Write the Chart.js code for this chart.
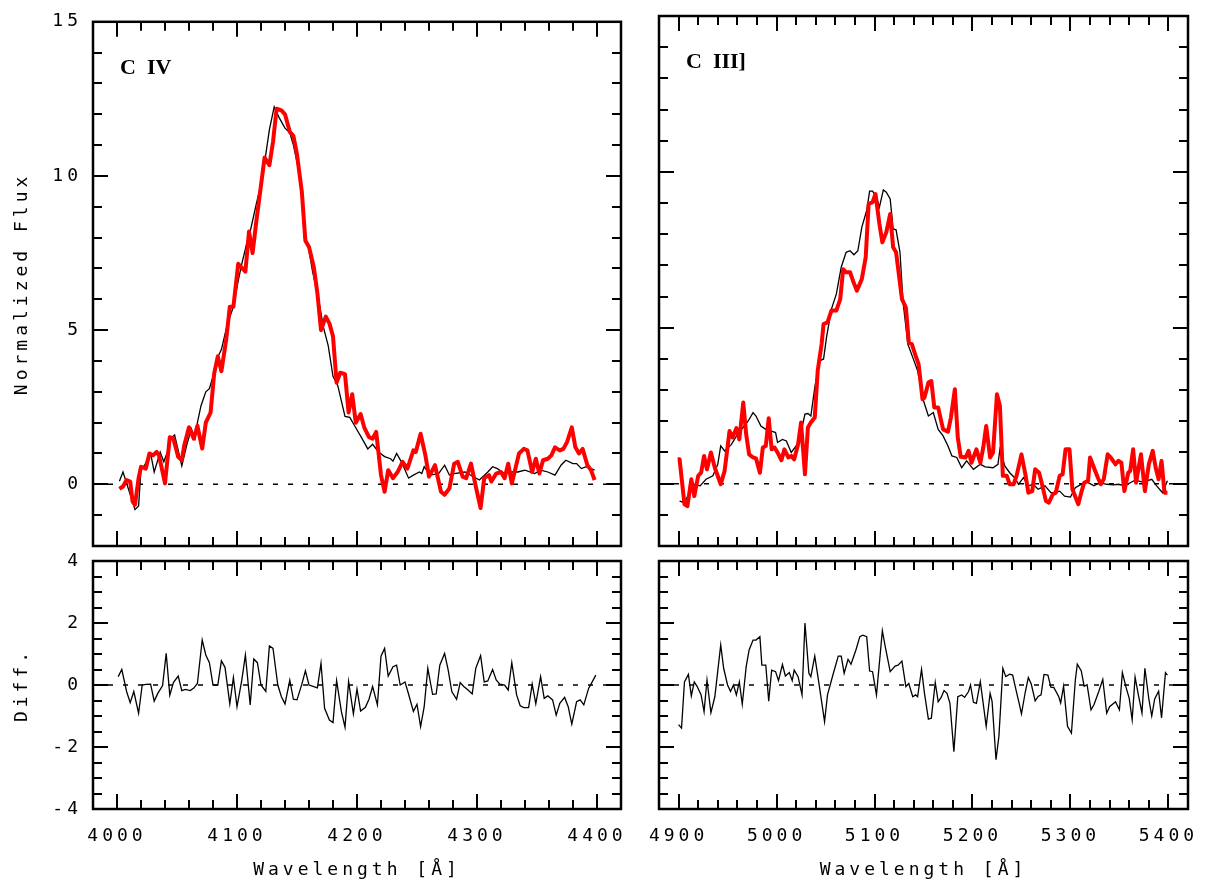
<!DOCTYPE html>
<html>
<head>
<meta charset="utf-8">
<script src="https://cdn.jsdelivr.net/npm/chart.js@4.4.1/dist/chart.umd.min.js"></script>
<style>
html, body { margin: 0; padding: 0; background: #fff; }
#wrap { position: relative; width: 1211px; height: 884px; }
#wrap canvas { position: absolute; left: 0; top: 0; }
</style>
</head>
<body>
<div id="wrap">
<canvas id="civTop" width="1211" height="884"></canvas>
<canvas id="ciiiTop" width="1211" height="884"></canvas>
<canvas id="civDiff" width="1211" height="884"></canvas>
<canvas id="ciiiDiff" width="1211" height="884"></canvas>
</div>
<script>
// ---- tick labels ----
const civTicks = [4000, 4100, 4200, 4300, 4400];
const ciiiTicks = [4900, 5000, 5100, 5200, 5300, 5400];
const fluxTicks = [0, 5, 10, 15];
const diffTicks = [-4, -2, 0, 2, 4];

// ---- C IV : thin black spectrum ----
const civBlackWave = [4002,4005,4015,4018,4020,4023,4028,4031,4036,4039,4042,4045,4048,4052,4054,4058,4062,4065,4067,4070,
  4074,4077,4080,4083,4087,4092,4097,4101,4104,4108,4111,4116,4121,4124,4127,4131,4135,4140,4144,4147,
  4151,4154,4156,4159,4163,4168,4172,4176,4180,4184,4190,4194,4198,4204,4209,4213,4218,4223,4228,4230,
  4233,4237,4243,4247,4252,4254,4256,4261,4268,4273,4277,4281,4290,4302,4309,4313,4317,4323,4327,4328,
  4334,4340,4348,4353,4359,4365,4370,4374,4380,4383,4387,4391,4395,4398];
const civBlackFlux = [0.1,0.4,-0.82,-0.7,0.5,0.62,1.0,0.4,1.05,0.73,1.05,1.5,1.6,0.94,0.6,1.26,1.8,1.48,2.0,2.55,
  3.0,3.1,3.5,4.05,4.37,5.2,5.76,6.6,7.15,7.8,8.2,9.08,9.9,10.7,11.5,12.24,11.9,11.55,11.4,11.0,
  10.26,9.4,8.0,7.8,6.9,6.0,5.1,4.5,3.5,3.2,2.2,2.17,1.9,1.5,1.15,1.3,1.05,0.9,0.83,0.75,
  1.0,0.73,0.2,0.3,0.4,0.35,0.57,0.3,0.35,0.62,0.3,0.35,0.4,0.14,0.4,0.57,0.51,0.35,0.57,0.4,
  0.4,0.46,0.35,0.46,0.4,0.3,0.62,0.78,0.67,0.67,0.51,0.57,0.51,0.46];

// ---- C IV : thick red spectrum ----
const civRedWave = [4002,4005,4008,4011,4013,4015,4018,4020,4024,4027,4030,4033,4035,4040,4044,4047,4051,4054,4056,4060,
  4064,4067,4071,4074,4078,4081,4084,4087,4091,4094,4097,4101,4107,4110,4113,4116,4120,4123,4127,4130,
  4133,4137,4140,4144,4147,4150,4154,4157,4160,4164,4167,4170,4174,4177,4180,4183,4186,4190,4193,4196,
  4199,4203,4206,4210,4213,4216,4220,4223,4226,4230,4234,4238,4242,4247,4249,4253,4257,4260,4265,4270,
  4273,4277,4281,4284,4288,4291,4295,4299,4303,4306,4310,4312,4316,4320,4323,4326,4329,4332,4335,4339,
  4342,4346,4349,4352,4355,4359,4362,4365,4369,4372,4375,4379,4382,4385,4388,4392,4395,4398];
const civRedFlux = [-0.15,-0.07,0.14,0.09,-0.56,-0.66,0.2,0.57,0.51,1.0,0.94,1.05,0.94,0.03,1.53,1.48,0.89,0.78,1.26,1.85,
  1.48,1.9,1.16,2.0,2.33,3.6,4.15,3.67,4.69,5.76,5.76,7.15,6.9,8.2,7.5,8.5,9.7,10.6,10.35,11.1,
  12.18,12.13,12.0,11.43,11.3,10.7,9.5,7.9,7.7,7.05,6.2,5.0,5.44,5.22,4.8,3.3,3.62,3.57,2.33,2.92,
  2.0,2.28,1.85,1.53,1.48,1.7,0.3,-0.24,0.46,0.2,0.41,0.73,0.51,1.1,1.05,1.64,0.94,0.25,0.62,-0.24,
  -0.34,-0.13,0.67,0.73,0.25,0.2,0.67,-0.07,-0.77,0.2,0.3,0.09,0.35,0.4,0.2,0.67,0.03,0.51,1.0,1.15,
  1.1,0.4,0.83,0.35,0.78,0.83,0.94,1.2,1.1,1.15,1.37,1.85,1.2,1.0,1.15,0.62,0.46,0.14];

// ---- C IV : difference ----
const civDiffWave = [4001,4004,4008,4011,4014,4018,4021,4024,4028,4031,4034,4038,4041,4044,4047,4051,4054,4057,4061,4064,
  4067,4071,4074,4077,4080,4084,4087,4090,4094,4097,4100,4104,4107,4111,4114,4117,4120,4124,4127,4130,
  4134,4137,4140,4144,4147,4150,4154,4157,4160,4164,4167,4170,4173,4177,4180,4183,4187,4190,4193,4197,
  4200,4203,4207,4210,4213,4217,4220,4223,4226,4230,4233,4236,4240,4243,4247,4250,4253,4256,4259,4263,
  4266,4269,4273,4276,4279,4283,4286,4289,4293,4296,4299,4303,4306,4309,4313,4316,4319,4323,4326,4329,
  4333,4336,4339,4343,4346,4349,4353,4356,4359,4363,4366,4369,4373,4376,4379,4383,4386,4389,4393,4395,4399];
const civDiff = [0.27,0.5,-0.21,-0.57,-0.21,-0.91,0,0.02,0.03,-0.52,-0.27,-0.02,1.02,-0.33,0.08,0.29,-0.18,-0.14,-0.18,-0.1,
  0.05,1.45,0.97,0.72,0,0,0.78,0.57,-0.61,0.24,-0.7,0.16,0.97,-0.64,0.84,0.72,0,-0.21,1.26,1.18,
  0,-0.38,-0.61,0.16,-0.46,-0.48,0.02,0.46,0,-0.05,-0.09,0.7,-0.75,-1.13,-1.21,0.14,-0.86,-1.36,0.11,-0.93,
  -0.13,-0.84,-0.72,-0.46,-0.05,-0.64,0.93,1.18,0.29,0.59,0.64,0,0.1,-0.3,-0.85,-0.62,-1.34,-0.7,0.54,-0.3,
  -0.29,0.64,1.02,0.48,-0.21,-0.46,0.08,-0.05,-0.18,-0.29,0.54,0.95,0.1,0.13,0.5,0.16,0.03,0,-0.16,0.72,
  -0.32,-0.67,-0.73,-0.73,0.03,-0.61,0.27,-0.43,-0.35,-0.48,-0.97,-0.59,-0.4,-0.7,-1.26,-0.54,-0.48,-0.64,-0.11,0.03,0.32];

// ---- C III] : thin black spectrum ----
const ciiiBlackWave = [4901,4906,4911,4916,4922,4928,4935,4940,4943,4947,4954,4960,4967,4971,4976,4979,4984,4989,4994,4999,
  5001,5006,5010,5015,5020,5023,5029,5032,5035,5039,5044,5048,5051,5056,5061,5066,5071,5075,5079,5083,
  5087,5092,5095,5098,5102,5105,5109,5112,5116,5119,5122,5126,5129,5134,5139,5144,5150,5155,5160,5165,
  5170,5175,5179,5184,5189,5194,5201,5208,5213,5221,5226,5228,5233,5238,5243,5247,5252,5257,5262,5267,
  5274,5280,5284,5289,5294,5300,5305,5310,5316,5320,5324,5330,5337,5344,5349,5356,5361,5366,5373,5378,
  5383,5388,5394,5399];
const ciiiBlackFlux = [-0.56,-0.61,-0.29,-0.02,-0.07,0.14,0.25,0.62,1.21,1.05,1.26,1.58,1.85,2.01,2.28,2.17,1.85,1.74,1.69,1.64,
  1.32,1.42,1.37,1.0,1.21,1.37,2.23,2.25,2.17,3.08,3.94,4.0,4.69,5.6,6.08,6.94,7.42,7.47,7.34,7.47,
  8.22,8.76,9.38,9.38,9.19,8.87,9.42,9.35,9.13,8.17,8.14,7.42,5.87,4.48,4.05,3.62,2.66,2.17,2.28,1.74,
  1.53,1.21,0.89,0.84,0.51,0.73,0.46,0.62,0.54,0.51,0.62,1.1,0.57,0.35,0.19,-0.02,0.19,-0.07,-0.02,-0.18,
  -0.07,-0.29,-0.29,-0.24,-0.4,-0.43,-0.13,-0.04,0.06,0.0,-0.07,0.03,-0.02,-0.04,-0.02,-0.07,0.03,0.11,0.06,0.09,
  0.14,-0.07,-0.29,0.09];

// ---- C III] : thick red spectrum ----
const ciiiRedWave = [4899,4901,4906,4909,4913,4916,4920,4923,4926,4929,4933,4937,4943,4947,4952,4955,4959,4962,4966,4969,
  4972,4976,4979,4983,4986,4989,4992,4995,4998,5001,5005,5008,5012,5015,5018,5022,5025,5029,5032,5035,
  5039,5042,5046,5048,5052,5056,5061,5065,5068,5071,5075,5078,5082,5087,5091,5094,5098,5101,5105,5108,
  5112,5116,5119,5122,5128,5132,5135,5138,5142,5145,5149,5151,5155,5158,5161,5165,5170,5175,5178,5182,
  5185,5188,5193,5196,5199,5204,5208,5211,5214,5218,5221,5225,5228,5231,5235,5238,5242,5245,5250,5254,
  5257,5261,5264,5268,5271,5275,5278,5282,5285,5289,5292,5295,5299,5302,5308,5311,5314,5318,5320,5324,
  5328,5331,5334,5338,5341,5346,5349,5352,5355,5359,5361,5364,5367,5372,5376,5380,5384,5387,5390,5393,
  5396,5399];
const ciiiRedFlux = [0.78,0.78,-0.66,-0.72,0.14,-0.4,0.25,0.35,0.89,0.46,1.0,0.51,-0.02,0.41,1.69,1.48,1.78,1.42,2.6,1.58,
  0.94,0.84,0.81,0.35,1.16,1.21,2.1,1.1,1.16,1.0,0.75,1.1,0.84,0.89,0.78,1.26,1.96,0.3,1.8,1.96,
  2.12,3.62,4.48,5.12,5.17,5.55,5.55,5.92,6.88,6.78,6.78,6.51,6.19,6.56,7.26,8.97,9.03,9.29,8.33,7.74,
  8.06,8.65,7.58,7.42,5.92,5.65,4.53,4.48,4.1,3.83,2.71,2.76,3.24,3.29,2.44,2.44,1.74,1.67,2.12,3.03,
  1.48,0.86,0.84,1.05,0.67,1.1,0.67,1.16,1.85,0.84,1.0,2.87,2.49,0.25,0.25,-0.02,-0.02,0.25,0.94,0.3,
  -0.29,-0.24,0.46,0.35,-0.02,-0.56,-0.61,-0.34,-0.29,0.25,0.3,1.1,1.1,-0.18,-0.66,-0.29,0.03,0.09,0.84,0.51,
  0.19,-0.02,0.14,0.94,0.84,0.62,0.73,0.67,-0.24,0.35,0.41,1.1,0.03,0.94,-0.24,0.62,1.05,0.51,0.14,0.73,
  -0.29,-0.29];

// ---- C III] : difference ----
const ciiiDiffWave = [4900,4903,4906,4910,4913,4916,4919,4923,4926,4929,4933,4937,4943,4946,4950,4953,4956,4959,4962,4965,
  4969,4972,4976,4979,4983,4985,4989,4992,4995,4999,5002,5006,5009,5013,5016,5018,5022,5026,5029,5033,
  5035,5039,5043,5049,5052,5058,5063,5066,5069,5073,5076,5081,5085,5088,5092,5095,5098,5102,5108,5111,
  5116,5121,5124,5128,5132,5135,5139,5142,5144,5148,5151,5155,5158,5162,5165,5168,5171,5174,5177,5181,
  5185,5189,5192,5196,5198,5201,5204,5208,5211,5214,5218,5220,5224,5227,5231,5234,5238,5241,5244,5248,
  5250,5254,5257,5260,5264,5267,5270,5273,5277,5280,5283,5288,5290,5293,5297,5301,5305,5307,5311,5314,
  5317,5321,5324,5329,5333,5337,5340,5346,5350,5353,5357,5360,5363,5366,5369,5373,5376,5380,5383,5386,
  5390,5393,5397,5399];
const ciiiDiff = [-1.28,-1.39,0.1,0.34,-0.35,0.1,-0.05,-0.32,-0.86,0.16,-0.89,-0.38,1.29,0.54,0,-0.21,0,-0.32,0.1,-0.62,
  0.59,1.13,1.45,1.45,1.56,0.64,0.64,-0.52,0.48,0.43,0.14,0.66,0.29,0.4,0.14,0.48,0.27,-0.32,2.0,0.38,
  0.27,0.93,0.11,-1.18,-0.32,0.38,0.93,0.93,0.38,0.83,0.67,1.13,1.56,1.61,1.56,0.45,0.43,-0.32,1.75,1.23,
  0.43,0.61,0.64,0.77,-0.05,0.05,-0.38,-0.32,-0.38,0.5,-0.27,-1.1,-1.07,0.08,-0.54,-0.4,-0.18,-0.27,-0.59,-2.15,
  -0.38,-0.32,-0.4,-0.21,0,-0.56,-0.59,0.11,-0.61,-1.33,-0.27,-0.53,-2.41,-1.65,0.54,0.27,0.35,0.32,-0.1,-0.64,
  -0.93,-0.21,0.24,0.03,-0.51,-0.37,-0.32,0.34,0.32,-0.07,-0.08,-0.37,-0.58,-0.04,-1.33,-1.55,0.16,0.67,0.46,-0.04,
  0.01,-0.8,-0.64,-0.2,0.18,-0.91,-0.7,-0.54,-0.8,0.4,-0.1,-0.43,-1.12,0.25,-0.26,-0.9,0.54,-0.45,-1.0,-0.45,
  -0.2,-1.06,0.4,0.32];

const W = 1211, H = 884;
const FONT = { family: '"DejaVu Sans Mono", monospace', size: 18 };

function pts(xs, ys) {
  return xs.map((x, i) => ({ x: x, y: ys[i] }));
}

function isMajor(v, step) {
  const r = v / step;
  return Math.abs(r - Math.round(r)) < 1e-6;
}

// frame, inward ticks, dashed zero line and the line name
const panelPlugin = {
  id: 'panel',
  beforeDraw(chart) {
    chart.ctx.letterSpacing = '4px';
  },
  beforeDatasetsDraw(chart) {
    const ctx = chart.ctx, a = chart.chartArea;
    const py = chart.scales.y.getPixelForValue(0);
    ctx.save();
    ctx.setLineDash([5, 10]);
    ctx.lineWidth = 1.5;
    ctx.strokeStyle = '#000';
    ctx.beginPath();
    ctx.moveTo(a.left, py);
    ctx.lineTo(a.right, py);
    ctx.stroke();
    ctx.restore();
  },
  afterDraw(chart, args, o) {
    const ctx = chart.ctx, a = chart.chartArea;
    const sx = chart.scales.x, sy = chart.scales.y;
    ctx.save();
    ctx.strokeStyle = '#000';
    ctx.lineWidth = 2;
    ctx.beginPath();
    for (let v = Math.ceil(sx.min / o.xMinor) * o.xMinor; v < sx.max; v += o.xMinor) {
      if (v <= sx.min) continue;
      const px = Math.round(sx.getPixelForValue(v));
      const len = isMajor(v, o.xMajor) ? 15 : 9;
      ctx.moveTo(px, a.bottom); ctx.lineTo(px, a.bottom - len);
      ctx.moveTo(px, a.top); ctx.lineTo(px, a.top + len);
    }
    for (let v = Math.ceil(sy.min / o.yMinor) * o.yMinor; v < sy.max - 1e-6; v += o.yMinor) {
      if (v <= sy.min + 1e-6) continue;
      const py = Math.round(sy.getPixelForValue(v));
      const len = isMajor(v, o.yMajor) ? 15 : 9;
      ctx.moveTo(a.left, py); ctx.lineTo(a.left + len, py);
      ctx.moveTo(a.right, py); ctx.lineTo(a.right - len, py);
    }
    ctx.stroke();
    ctx.lineWidth = 2.5;
    ctx.strokeRect(a.left, a.top, a.right - a.left, a.bottom - a.top);
    if (o.label) {
      ctx.letterSpacing = '0px';
      ctx.fillStyle = '#000';
      ctx.font = 'bold 22px "Liberation Serif", serif';
      ctx.textBaseline = 'alphabetic';
      ctx.textAlign = 'left';
      ctx.fillText(o.label, a.left + 27, a.top + 52);
    }
    ctx.restore();
  }
};

function makePanel(id, box, xRange, yRange, xTicks, yTicks, sets, extra) {
  const showX = !!extra.xTitle, showY = !!extra.yTitle;
  const xH = showX ? H - box.b : 0;
  const yW = showY ? box.l : 0;
  return new Chart(document.getElementById(id), {
    type: 'line',
    data: { datasets: sets },
    options: {
      responsive: false,
      animation: false,
      events: [],
      layout: { padding: { left: box.l - yW, top: box.t, right: W - box.r, bottom: H - box.b - xH } },
      plugins: {
        legend: { display: false },
        tooltip: { enabled: false },
        panel: extra.frame
      },
      scales: {
        x: {
          type: 'linear', position: 'bottom', min: xRange[0], max: xRange[1],
          display: showX,
          afterFit: s => { s.height = xH; },
          afterBuildTicks: s => { s.ticks = xTicks.map(v => ({ value: v })); },
          grid: { display: false, drawTicks: false },
          border: { display: false },
          ticks: { color: '#000', font: FONT, padding: 17, maxRotation: 0, autoSkip: false,
                   callback: v => String(v) },
          title: { display: showX, text: extra.xTitle || '', color: '#000', font: FONT,
                   padding: { top: 0, bottom: 3 } }
        },
        y: {
          type: 'linear', position: 'left', min: yRange[0], max: yRange[1],
          display: showY,
          afterFit: s => { s.width = yW; },
          afterBuildTicks: s => { s.ticks = yTicks.map(v => ({ value: v })); },
          grid: { display: false, drawTicks: false },
          border: { display: false },
          ticks: { color: '#000', font: FONT, padding: 11, autoSkip: false,
                   callback: v => String(v) },
          title: { display: showY, text: extra.yTitle || '', color: '#000', font: FONT,
                   padding: { top: 12, bottom: 0 } }
        }
      }
    },
    plugins: [panelPlugin]
  });
}

function redLine(data) {
  return { data: data, borderColor: '#ff0000', borderWidth: 4, pointRadius: 0, tension: 0,
           borderJoinStyle: 'round', fill: false };
}
function blackLine(data) {
  return { data: data, borderColor: '#000', borderWidth: 1.3, pointRadius: 0, tension: 0, fill: false };
}

const boxTL = { l: 93, t: 16, r: 621, b: 546 };
const boxTR = { l: 659, t: 16, r: 1188, b: 546 };
const boxBL = { l: 93, t: 561, r: 621, b: 809 };
const boxBR = { l: 659, t: 561, r: 1188, b: 809 };

makePanel('civTop', boxTL, [3980, 4420], [-2, 15], civTicks, fluxTicks,
  [redLine(pts(civRedWave, civRedFlux)), blackLine(pts(civBlackWave, civBlackFlux))],
  { yTitle: 'Normalized Flux', frame: { xMinor: 20, xMajor: 100, yMinor: 1, yMajor: 5, label: 'C  IV' } });

makePanel('ciiiTop', boxTR, [4880, 5420], [-2, 15], ciiiTicks, fluxTicks,
  [redLine(pts(ciiiRedWave, ciiiRedFlux)), blackLine(pts(ciiiBlackWave, ciiiBlackFlux))],
  { frame: { xMinor: 20, xMajor: 100, yMinor: 1, yMajor: 5, label: 'C  III]' } });

makePanel('civDiff', boxBL, [3980, 4420], [-4, 4], civTicks, diffTicks,
  [blackLine(pts(civDiffWave, civDiff))],
  { xTitle: 'Wavelength [Å]', yTitle: 'Diff.', frame: { xMinor: 20, xMajor: 100, yMinor: 0.5, yMajor: 2 } });

makePanel('ciiiDiff', boxBR, [4880, 5420], [-4, 4], ciiiTicks, diffTicks,
  [blackLine(pts(ciiiDiffWave, ciiiDiff))],
  { xTitle: 'Wavelength [Å]', frame: { xMinor: 20, xMajor: 100, yMinor: 0.5, yMajor: 2 } });
</script>
</body>
</html>
